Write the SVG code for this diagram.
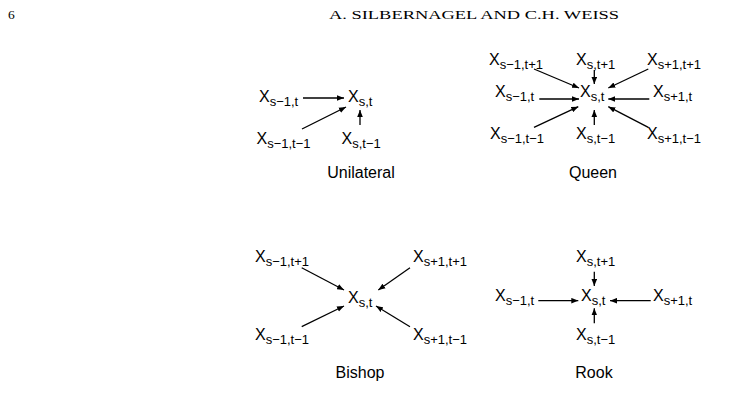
<svg xmlns="http://www.w3.org/2000/svg" width="753" height="414" viewBox="0 0 753 414">
<style>
.hd{font-family:"Liberation Serif","Times New Roman",serif;font-size:13.5px;fill:#000}
.v{font-family:"Liberation Sans",Arial,sans-serif;font-size:16px;fill:#000}
.v tspan{font-size:13px}
.cap{font-family:"Liberation Sans",Arial,sans-serif;font-size:16px;fill:#000;text-anchor:middle}
.e line{stroke:#000;stroke-width:1.3;marker-end:url(#ah)}
</style>
<defs>
<marker id="ah" markerUnits="userSpaceOnUse" markerWidth="7" markerHeight="6" refX="7" refY="3" orient="auto">
<path d="M0,0.2 L7,3 L0,5.8 z" fill="#000"/>
</marker>
</defs>
<rect width="753" height="414" fill="#fff"/>
<text class="hd" x="8" y="19">6</text>
<text class="hd" x="329" y="19" textLength="290" lengthAdjust="spacingAndGlyphs">A. SILBERNAGEL AND C.H. WEISS</text>

<!-- Unilateral -->
<g id="unilateral">
<g id="u-s1t"><text class="v" x="259" y="102">X<tspan dy="4">s−1,t</tspan></text></g>
<g id="u-st"><text class="v" x="348" y="102">X<tspan dy="4">s,t</tspan></text></g>
<g id="u-s1t1"><text class="v" x="256.5" y="143.5">X<tspan dy="4">s−1,t−1</tspan></text></g>
<g id="u-st1"><text class="v" x="341.5" y="143.5">X<tspan dy="4">s,t−1</tspan></text></g>
<g id="u-label"><text class="cap" x="361" y="178">Unilateral</text></g>
</g>

<!-- Queen -->
<g id="queen">
<g id="q-s1t+1"><text class="v" x="489" y="65">X<tspan dy="4">s−1,t+1</tspan></text></g>
<g id="q-st+1"><text class="v" x="576" y="65">X<tspan dy="4">s,t+1</tspan></text></g>
<g id="q-s+1t+1"><text class="v" x="647" y="65">X<tspan dy="4">s+1,t+1</tspan></text></g>
<g id="q-s1t"><text class="v" x="495" y="97">X<tspan dy="4">s−1,t</tspan></text></g>
<g id="q-st"><text class="v" x="580" y="97">X<tspan dy="4">s,t</tspan></text></g>
<g id="q-s+1t"><text class="v" x="653" y="97">X<tspan dy="4">s+1,t</tspan></text></g>
<g id="q-s1t1"><text class="v" x="490" y="139">X<tspan dy="4">s−1,t−1</tspan></text></g>
<g id="q-st1"><text class="v" x="576" y="139">X<tspan dy="4">s,t−1</tspan></text></g>
<g id="q-s+1t1"><text class="v" x="647" y="139">X<tspan dy="4">s+1,t−1</tspan></text></g>
<g id="q-label"><text class="cap" x="593" y="178">Queen</text></g>
</g>

<!-- Bishop -->
<g id="bishop">
<g id="b-s1t+1"><text class="v" x="255" y="261.5">X<tspan dy="4">s−1,t+1</tspan></text></g>
<g id="b-s+1t+1"><text class="v" x="413" y="261.5">X<tspan dy="4">s+1,t+1</tspan></text></g>
<g id="b-st"><text class="v" x="348" y="303">X<tspan dy="4">s,t</tspan></text></g>
<g id="b-s1t1"><text class="v" x="255" y="340">X<tspan dy="4">s−1,t−1</tspan></text></g>
<g id="b-s+1t1"><text class="v" x="413" y="340">X<tspan dy="4">s+1,t−1</tspan></text></g>
<g id="b-label"><text class="cap" x="360" y="378">Bishop</text></g>
</g>

<!-- Rook -->
<g id="rook">
<g id="r-st+1"><text class="v" x="576" y="261.5">X<tspan dy="4">s,t+1</tspan></text></g>
<g id="r-s1t"><text class="v" x="495" y="300.5">X<tspan dy="4">s−1,t</tspan></text></g>
<g id="r-st"><text class="v" x="581" y="300.5">X<tspan dy="4">s,t</tspan></text></g>
<g id="r-s+1t"><text class="v" x="653" y="300.5">X<tspan dy="4">s+1,t</tspan></text></g>
<g id="r-st1"><text class="v" x="576" y="340">X<tspan dy="4">s,t−1</tspan></text></g>
<g id="r-label"><text class="cap" x="594" y="378">Rook</text></g>
</g>

<g id="connectors" class="e">
<!-- unilateral -->
<line x1="303" y1="98" x2="344" y2="98"/>
<line x1="302" y1="129" x2="346" y2="107"/>
<line x1="360" y1="125" x2="360" y2="110"/>
<!-- queen -->
<line x1="534" y1="69" x2="579" y2="88"/>
<line x1="594.3" y1="70" x2="594.3" y2="84"/>
<line x1="648.3" y1="69" x2="608.3" y2="88"/>
<line x1="539.3" y1="99" x2="579" y2="99"/>
<line x1="649.3" y1="99" x2="608.3" y2="99"/>
<line x1="534" y1="127.3" x2="578.3" y2="106.7"/>
<line x1="594.3" y1="125" x2="594.3" y2="110"/>
<line x1="648.3" y1="127.3" x2="608.3" y2="106.7"/>
<!-- bishop -->
<line x1="301.7" y1="267.7" x2="344" y2="290"/>
<line x1="410" y1="267.7" x2="378.3" y2="290"/>
<line x1="301.7" y1="326.7" x2="344" y2="306"/>
<line x1="410" y1="326.7" x2="376" y2="306"/>
<!-- rook -->
<line x1="594.3" y1="271.7" x2="594.3" y2="286"/>
<line x1="538.3" y1="300.7" x2="578.3" y2="300.7"/>
<line x1="650.7" y1="300.7" x2="610" y2="300.7"/>
<line x1="594.3" y1="323.3" x2="594.3" y2="308.3"/>
</g>
</svg>
